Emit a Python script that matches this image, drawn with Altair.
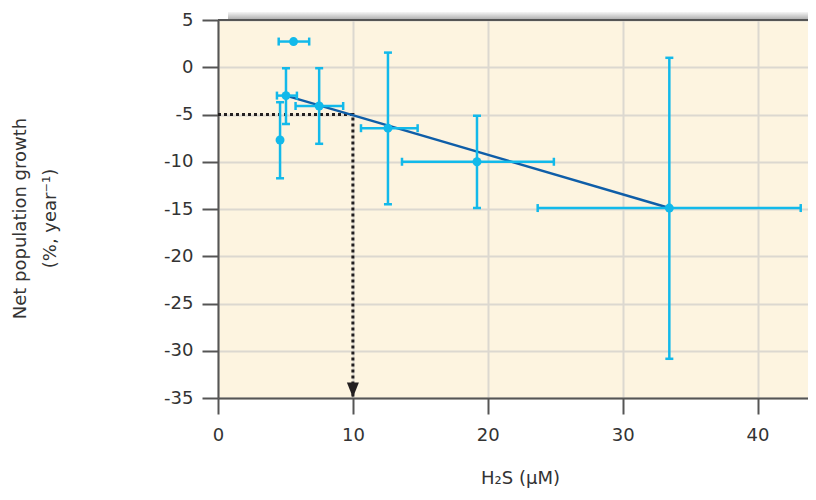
import altair as alt
import pandas as pd

# ---- data ----
x_vals = [5.6, 5.04, 7.5, 4.6, 12.6, 19.2, 33.46]
y_vals = [2.72, -3.0, -4.1, -7.7, -6.45, -10.0, -14.9]
x_lo = [4.5, 4.37, 5.75, None, 10.6, 13.64, 23.7]
x_hi = [6.76, 5.85, 9.28, None, 14.8, 24.9, 43.2]
y_lo = [None, -6.0, -8.1, -11.75, -14.5, -14.9, -30.85]
y_hi = [None, -0.1, -0.1, -3.7, 1.55, -5.14, 1.0]

fit_x = [5.04, 33.46]
fit_y = [-3.0, -14.9]

guide_x = [0, 10, 10]
guide_y = [-5, -5, -35]
guide_order = [0, 1, 2]

x_ticks = [0, 10, 20, 30, 40]
y_ticks = [5, 0, -5, -10, -15, -20, -25, -30, -35]
x_title = "H₂S (μM)"
y_title = ["Net population growth", "(%, year⁻¹)"]

FONT = "DejaVu Sans"
CYAN = "#12b9ea"
DARKBLUE = "#0f5ea8"
TEXT = "#333333"
AXIS = "#555555"

pts = pd.DataFrame({"x": x_vals, "y": y_vals, "x_lo": x_lo, "x_hi": x_hi,
                    "y_lo": y_lo, "y_hi": y_hi})
fit = pd.DataFrame({"x": fit_x, "y": fit_y})
guide = pd.DataFrame({"x": guide_x, "y": guide_y, "o": guide_order})
arrow = pd.DataFrame({"x": [guide_x[-1]], "y": [guide_y[-1]]})
top = pd.DataFrame({"y": [y_ticks[0]]})

xs = alt.Scale(domain=[0, 43.74], nice=False, zero=False)
ys = alt.Scale(domain=[-35, 5], nice=False, zero=False)

LABEL_EXPR = "replace(datum.label, '\u2212', '-')"

xaxis = alt.Axis(title=x_title, values=x_ticks, grid=True, gridColor="#dcd8d0",
                 gridWidth=2, domainColor=AXIS, domainWidth=2, tickColor=AXIS,
                 tickWidth=2, tickSize=16, labelFont=FONT, labelFontSize=18,
                 labelColor=TEXT, labelPadding=12, labelFlush=False,
                 titleFont=FONT, titleFontSize=18, titleFontWeight="normal",
                 titleColor=TEXT, titleX=302, titleY=85, titleBaseline="alphabetic",
                 titleAlign="center")
yaxis = alt.Axis(title=y_title, values=y_ticks, grid=True, gridColor="#dcd8d0",
                 gridWidth=2, domainColor=AXIS, domainWidth=2, tickColor=AXIS,
                 tickWidth=2, tickSize=16, labelFont=FONT, labelFontSize=18,
                 labelColor=TEXT, labelPadding=9, labelFlush=False,
                 labelExpr=LABEL_EXPR,
                 titleFont=FONT, titleFontSize=18, titleFontWeight="normal",
                 titleColor=TEXT, titleAngle=270, titleX=-207, titleY=198,
                 titleAlign="center", titleBaseline="top", titleLineHeight=30)


def X(f):
    return alt.X(f, type="quantitative", scale=xs, axis=xaxis)


def Y(f):
    return alt.Y(f, type="quantitative", scale=ys, axis=yaxis)


base = alt.Chart(pts)

shadow = alt.Chart(top).mark_rect(
    color=alt.LinearGradient(gradient="linear",
                             stops=[alt.GradientStop(color="#f6f6f6", offset=0),
                                    alt.GradientStop(color="#a9a9a9", offset=1)],
                             x1=0, x2=0, y1=0, y2=1)
).encode(x=alt.value(10), x2=alt.value(590), y=alt.value(-8), y2=alt.value(0))

top_rule = alt.Chart(top).mark_rule(color=AXIS, strokeWidth=2).encode(y=Y("y"))

guide_line = alt.Chart(guide).mark_line(color="#231f20", strokeWidth=3,
                                        strokeDash=[3, 3]).encode(
    x=X("x"), y=Y("y"), order="o:Q")

arrow_mark = alt.Chart(arrow).mark_point(
    shape="M-0.8,-1L0.8,-1L0,1Z", filled=True, opacity=1,
    color="#231f20", size=225, yOffset=-8).encode(x=X("x"), y=Y("y"))

fit_line = alt.Chart(fit).mark_line(color=DARKBLUE, strokeWidth=2.5).encode(
    x=X("x"), y=Y("y"))

hbar = base.transform_filter("isValid(datum.x_lo)").mark_rule(
    color=CYAN, strokeWidth=2.5).encode(x=X("x_lo"), x2="x_hi", y=Y("y"))
vbar = base.transform_filter("isValid(datum.y_lo)").mark_rule(
    color=CYAN, strokeWidth=2.5).encode(y=Y("y_lo"), y2="y_hi", x=X("x"))

hcap_lo = base.transform_filter("isValid(datum.x_lo)").mark_tick(
    color=CYAN, orient="vertical", size=8, thickness=2.5, opacity=1).encode(x=X("x_lo"), y=Y("y"))
hcap_hi = base.transform_filter("isValid(datum.x_hi)").mark_tick(
    color=CYAN, orient="vertical", size=8, thickness=2.5, opacity=1).encode(x=X("x_hi"), y=Y("y"))
vcap_lo = base.transform_filter("isValid(datum.y_lo)").mark_tick(
    color=CYAN, orient="horizontal", size=8, thickness=2.5, opacity=1).encode(x=X("x"), y=Y("y_lo"))
vcap_hi = base.transform_filter("isValid(datum.y_hi)").mark_tick(
    color=CYAN, orient="horizontal", size=8, thickness=2.5, opacity=1).encode(x=X("x"), y=Y("y_hi"))

points = base.mark_circle(color=CYAN, size=80, opacity=1).encode(x=X("x"), y=Y("y"))

chart = alt.layer(
    shadow, guide_line, fit_line, hbar, vbar, hcap_lo, hcap_hi, vcap_lo, vcap_hi,
    points, arrow_mark, top_rule
).properties(
    width=590, height=378,
    autosize=alt.AutoSizeParams(type="none"),
    padding={"left": 210, "top": 12, "right": 0, "bottom": 92},
    background="white",
).configure_view(stroke=None, fill="#fdf4e0")

chart.save("out.html", embed_options={"renderer": "svg", "actions": False})
